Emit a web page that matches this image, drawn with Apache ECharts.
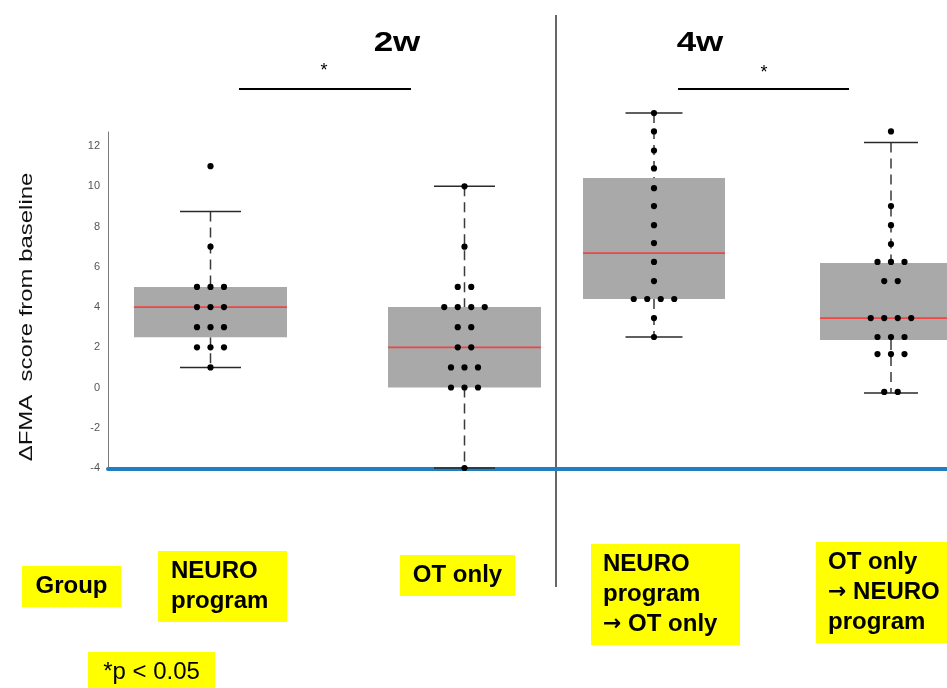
<!DOCTYPE html>
<html>
<head>
<meta charset="utf-8">
<title>FMA change from baseline</title>
<script src="https://cdn.jsdelivr.net/npm/echarts@6/dist/echarts.min.js"></script>
<style>
  html, body { margin: 0; padding: 0; background: #fff; }
  #main { width: 947px; height: 688px; }
</style>
</head>
<body>
<div id="main"></div>
<script>
// groups, left to right
var groups = ['NEURO\nprogram', 'OT only', 'NEURO\nprogram\n{a|→} OT only', 'OT only\n{a|→} NEURO\nprogram'];

// box statistics
var whiskerLow  = [1, -4, 2.51, -0.27];
var q1          = [2.5, 0, 4.40, 2.36];
var median      = [4, 2, 6.68, 3.45];
var q3          = [5, 4, 10.41, 6.19];
var whiskerHigh = [8.75, 10, 13.64, 12.18];

// single subjects
var neuro2w   = [11, 7, 5, 5, 5, 4, 4, 4, 3, 3, 3, 2, 2, 2, 1];
var ot2w      = [10, 7, 5, 5, 4, 4, 4, 4, 3, 3, 2, 2, 1, 1, 1, 0, 0, 0, -4];
var neuroOt4w = [13.64, 12.73, 11.78, 10.89, 9.91, 9.02, 8.07, 7.18, 6.24, 5.29, 4.40, 4.40, 4.40, 4.40, 3.45, 2.51];
var otNeuro4w = [12.73, 9.02, 8.07, 7.13, 6.24, 6.24, 6.24, 5.29, 5.29, 3.45, 3.45, 3.45, 3.45, 2.51, 2.51, 2.51, 1.66, 1.66, 1.66, -0.22, -0.22];
var points = [neuro2w, ot2w, neuroOt4w, otNeuro4w];

var yTicks = [-4, -2, 0, 2, 4, 6, 8, 10, 12];

// layout (x axis runs 0..839 across the plot)
var groupX  = [102.5, 356.5, 546, 783];
var boxHalf = [76.5, 76.5, 71, 71];
var capHalf = [30.5, 30.5, 28.5, 27];
var dotGap = 13.5;
var font = "'Liberation Sans', Arial, sans-serif";

var boxData = groups.map(function (g, i) {
  return [groupX[i], whiskerLow[i], q1[i], median[i], q3[i], whiskerHigh[i]];
});

// beeswarm: equal values side by side
var dotData = [];
points.forEach(function (vals, gi) {
  var count = {}, seen = {};
  vals.forEach(function (v) { count[v] = (count[v] || 0) + 1; });
  vals.forEach(function (v) {
    var k = seen[v] || 0;
    seen[v] = k + 1;
    dotData.push([groupX[gi], v, (k - (count[v] - 1) / 2) * dotGap]);
  });
});

function renderBox(params, api) {
  var gi = params.dataIndex;
  var x = api.value(0);
  var lo = api.coord([x, api.value(1)]);
  var b  = api.coord([x, api.value(2)]);
  var m  = api.coord([x, api.value(3)]);
  var t  = api.coord([x, api.value(4)]);
  var hi = api.coord([x, api.value(5)]);
  var cx = lo[0], hw = boxHalf[gi], cw = capHalf[gi];
  var dash = { stroke: '#3a3a3a', lineWidth: 1.5, lineDash: [10, 6] };
  var solid = { stroke: '#2a2a2a', lineWidth: 1.5 };
  return {
    type: 'group',
    children: [
      { type: 'line', shape: { x1: cx, y1: hi[1], x2: cx, y2: t[1] }, style: dash },
      { type: 'line', shape: { x1: cx, y1: b[1], x2: cx, y2: lo[1] }, style: dash },
      { type: 'line', shape: { x1: cx - cw, y1: hi[1], x2: cx + cw, y2: hi[1] }, style: solid },
      { type: 'line', shape: { x1: cx - cw, y1: lo[1], x2: cx + cw, y2: lo[1] }, style: solid },
      { type: 'rect', shape: { x: cx - hw, y: t[1], width: hw * 2, height: b[1] - t[1] }, style: { fill: '#a9a9a9' } },
      { type: 'line', shape: { x1: cx - hw, y1: m[1], x2: cx + hw, y2: m[1] }, style: { stroke: '#f04545', lineWidth: 1.8 } }
    ]
  };
}

function renderDot(params, api) {
  var p = api.coord([api.value(0), api.value(1)]);
  return { type: 'circle', shape: { cx: p[0] + api.value(2), cy: p[1], r: 3.1 }, style: { fill: '#000' } };
}

// yellow group labels
var labelBoxes = [
  { text: 'Group', x: 22, y: 566, w: 99, h: 41, bold: true },
  { text: groups[0], x: 158, y: 551, w: 129, h: 71, bold: true, left: 171 },
  { text: groups[1], x: 400, y: 555, w: 115, h: 41, bold: true },
  { text: groups[2], x: 591, y: 544, w: 149, h: 101, bold: true, left: 603 },
  { text: groups[3], x: 816, y: 542, w: 140, h: 101, bold: true, left: 828 },
  { text: '*p < 0.05', x: 88, y: 652, w: 127, h: 40, bold: false }
];
var labelGraphics = labelBoxes.map(function (l) {
  return {
    type: 'group',
    children: [
      { type: 'rect', shape: { x: l.x, y: l.y, width: l.w, height: l.h }, style: { fill: '#ffff00' } },
      {
        type: 'text',
        x: l.left != null ? l.left : l.x + l.w / 2,
        y: l.y + l.h / 2,
        style: {
          text: l.text,
          font: (l.bold ? 'bold ' : '') + '24px ' + font,
          fill: '#000',
          align: l.left != null ? 'left' : 'center',
          verticalAlign: 'middle',
          lineHeight: 30,
          rich: {
            a: { fontFamily: 'DejaVu Sans', fontWeight: 'bold', fontSize: 22, lineHeight: 30, fill: '#000' }
          }
        }
      }
    ]
  };
});

var chart = echarts.init(document.getElementById('main'));
chart.setOption({
  animation: false,
  grid: { left: 108, right: 0, top: 132, bottom: 220 },
  xAxis: {
    type: 'value', min: 0, max: 839, offset: 1,
    axisLine: { show: true, onZero: false, lineStyle: { color: '#1f7fc0', width: 4 } },
    axisTick: { show: false }, axisLabel: { show: false }, splitLine: { show: false }
  },
  yAxis: {
    type: 'value', min: yTicks[0], max: 12.7, interval: 2,
    axisLine: { show: true, onZero: false, lineStyle: { color: '#7a7a7a', width: 1 } },
    axisTick: { show: false },
    splitLine: { show: false },
    axisLabel: {
      fontSize: 11, color: '#555', fontFamily: font, margin: 8,
      formatter: function (v) { return yTicks.indexOf(v) >= 0 ? String(v) : ''; }
    }
  },
  series: [
    { type: 'custom', renderItem: renderBox, data: boxData, encode: { x: 0, y: [1, 2, 3, 4, 5] }, z: 2 },
    { type: 'custom', renderItem: renderDot, data: dotData, encode: { x: 0, y: 1 }, z: 3 }
  ],
  graphic: [
    { type: 'text', x: 27, y: 317, rotation: Math.PI / 2, scaleX: 1.33,
      style: { text: 'ΔFMA  score from baseline', font: '18px ' + font, fill: '#111', align: 'center', verticalAlign: 'middle' } },
    { type: 'text', x: 397, y: 43, scaleX: 1.25,
      style: { text: '2w', font: 'bold 28px ' + font, fill: '#000', align: 'center', verticalAlign: 'middle' } },
    { type: 'text', x: 700, y: 43, scaleX: 1.25,
      style: { text: '4w', font: 'bold 28px ' + font, fill: '#000', align: 'center', verticalAlign: 'middle' } },
    { type: 'text', x: 324, y: 62, style: { text: '*', font: '18px ' + font, fill: '#000', align: 'center', verticalAlign: 'top' } },
    { type: 'text', x: 764, y: 64, style: { text: '*', font: '18px ' + font, fill: '#000', align: 'center', verticalAlign: 'top' } },
    { type: 'line', shape: { x1: 239, y1: 89, x2: 411, y2: 89 }, style: { stroke: '#000', lineWidth: 2 } },
    { type: 'line', shape: { x1: 678, y1: 89, x2: 849, y2: 89 }, style: { stroke: '#000', lineWidth: 2 } },
    { type: 'line', shape: { x1: 556, y1: 15, x2: 556, y2: 587 }, style: { stroke: '#333', lineWidth: 1.5 } }
  ].concat(labelGraphics)
});
</script>
</body>
</html>
